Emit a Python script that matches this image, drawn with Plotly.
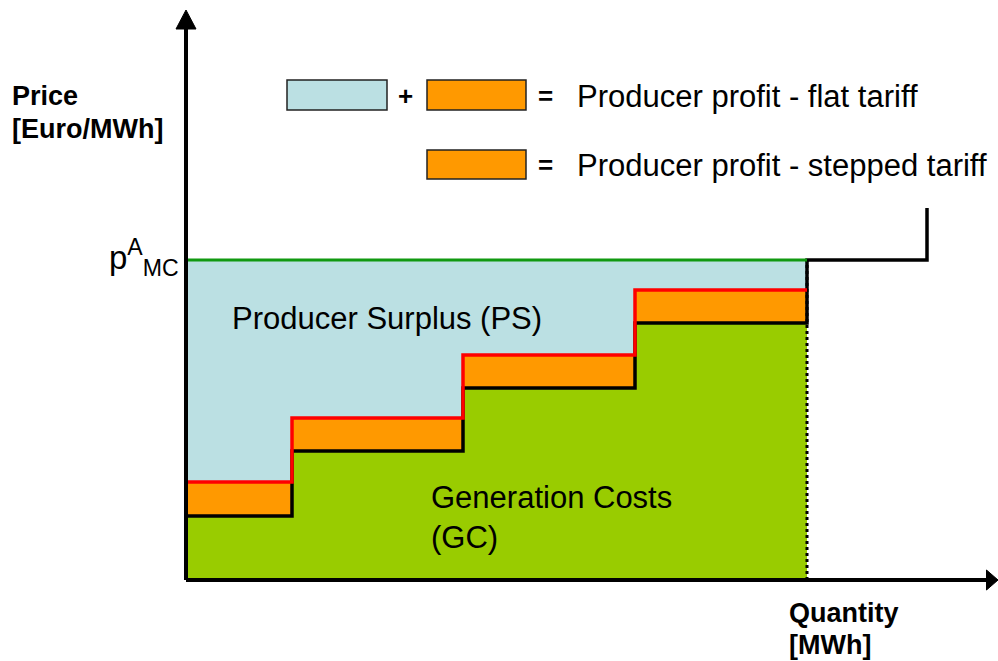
import plotly.graph_objects as go

# ---------------- data (conceptual units) ----------------
step_edges = [0, 106, 277, 449, 621]        # quantity block boundaries
gen_cost = [64, 129, 192, 257]              # generation cost per block
stepped_tariff = [98, 162, 225, 290]        # stepped tariff per block
price_amc = 320                             # flat tariff p^A_MC
supply_ext_q = 741                          # supply curve continuation
supply_ext_p = 372

X_RANGE = [-186, 812]
Y_RANGE = [-81, 580]
AXIS_TOP = 551
ARROW_LEN = 19
ARROW_HALF = 10

FONT = "Arial, Liberation Sans, sans-serif"
C_BLUE = "#BBE0E3"
C_ORANGE = "#FF9900"
C_GREEN = "#99CC00"
C_GREENLINE = "#119911"
C_RED = "#FF0000"


def step_xy(edges, levels):
    xs, ys = [], []
    for i, lv in enumerate(levels):
        xs += [edges[i], edges[i + 1]]
        ys += [lv, lv]
    return xs, ys


q_end = step_edges[-1]
fig = go.Figure()

# producer surplus area (flat tariff)
fig.add_trace(go.Scatter(x=[0, 0, q_end, q_end, 0], y=[0, price_amc, price_amc, 0, 0],
                         fill="toself", fillcolor=C_BLUE, mode="none", hoverinfo="skip"))
# stepped tariff area
tx, ty = step_xy(step_edges, stepped_tariff)
fig.add_trace(go.Scatter(x=[0] + tx + [q_end, 0], y=[0] + ty + [0, 0],
                         fill="toself", fillcolor=C_ORANGE, mode="none", hoverinfo="skip"))
# generation cost area
cx, cy = step_xy(step_edges, gen_cost)
fig.add_trace(go.Scatter(x=[0] + cx + [q_end, 0], y=[0] + cy + [0, 0],
                         fill="toself", fillcolor=C_GREEN, mode="none", hoverinfo="skip"))

# dotted vertical at end quantity
fig.add_trace(go.Scatter(x=[q_end, q_end], y=[0, price_amc], mode="lines",
                         line=dict(color="black", width=3, dash="dot"), hoverinfo="skip"))
# supply (cost) curve
fig.add_trace(go.Scatter(x=cx + [q_end, supply_ext_q, supply_ext_q],
                         y=cy + [price_amc, price_amc, supply_ext_p], mode="lines",
                         line=dict(color="black", width=3.5), hoverinfo="skip"))
# stepped tariff line
fig.add_trace(go.Scatter(x=tx, y=ty, mode="lines",
                         line=dict(color=C_RED, width=3.5), hoverinfo="skip"))
# flat price line
fig.add_trace(go.Scatter(x=[0, q_end], y=[price_amc, price_amc], mode="lines",
                         line=dict(color=C_GREENLINE, width=3), hoverinfo="skip"))

# axes with arrows
x_tip = X_RANGE[1]
fig.add_trace(go.Scatter(x=[0, 0, None, 0, x_tip - ARROW_LEN / 2 - 1], y=[0, AXIS_TOP, None, 0, 0],
                         mode="lines", line=dict(color="black", width=4), hoverinfo="skip"))
fig.add_trace(go.Scatter(x=[-ARROW_HALF, ARROW_HALF, 0, -ARROW_HALF],
                         y=[AXIS_TOP, AXIS_TOP, AXIS_TOP + ARROW_LEN, AXIS_TOP],
                         fill="toself", fillcolor="black", mode="lines",
                         line=dict(color="black", width=1), hoverinfo="skip"))
fig.add_trace(go.Scatter(x=[x_tip - ARROW_LEN / 2 - 2, x_tip - ARROW_LEN / 2 - 2, x_tip, x_tip - ARROW_LEN / 2 - 2],
                         y=[-ARROW_HALF, ARROW_HALF, 0, -ARROW_HALF],
                         fill="toself", fillcolor="black", mode="lines",
                         line=dict(color="black", width=1), hoverinfo="skip"))

# legend boxes
shapes = [
    dict(type="rect", x0=101, x1=201, y0=470, y1=500, fillcolor=C_BLUE, line=dict(color="#222", width=1.5)),
    dict(type="rect", x0=241, x1=340, y0=470, y1=500, fillcolor=C_ORANGE, line=dict(color="#222", width=1.5)),
    dict(type="rect", x0=241, x1=340, y0=401, y1=430, fillcolor=C_ORANGE, line=dict(color="#222", width=1.5)),
]

ann = []


def text(x, y, s, size, bold=False, xanchor="left"):
    ann.append(dict(x=x, y=y, xref="x", yref="y", text=f"<b>{s}</b>" if bold else s,
                    showarrow=False, xanchor=xanchor, yanchor="middle",
                    font=dict(family=FONT, size=size, color="black")))


text(-176, 484, "Price", 27, True)
text(-176, 451, "[Euro/MWh]", 27, True)
text(601, -33, "Quantity", 27, True)
text(601, -65, "[MWh]", 27, True)
text(-5, 323, "p<sup>A</sup><sub>MC</sub>", 33, xanchor="right")
text(44, 262, "Producer Surplus (PS)", 31)
text(243, 83, "Generation Costs", 31)
text(243, 43, "(GC)", 31)
text(219, 484, "+", 26, True, xanchor="center")
text(359, 484, "=", 26, True, xanchor="center")
text(359, 415, "=", 26, True, xanchor="center")
text(389, 484, "Producer profit - flat tariff", 31)
text(389, 415, "Producer profit - stepped tariff", 31)

fig.update_layout(
    width=998, height=661, margin=dict(l=0, r=0, t=0, b=0),
    paper_bgcolor="white", plot_bgcolor="white", showlegend=False,
    xaxis=dict(range=X_RANGE, visible=False, fixedrange=True),
    yaxis=dict(range=Y_RANGE, visible=False, fixedrange=True),
    shapes=shapes, annotations=ann,
)

fig.write_html("out.html", config={"displayModeBar": False},
               post_script="document.body.style.margin='0';")
